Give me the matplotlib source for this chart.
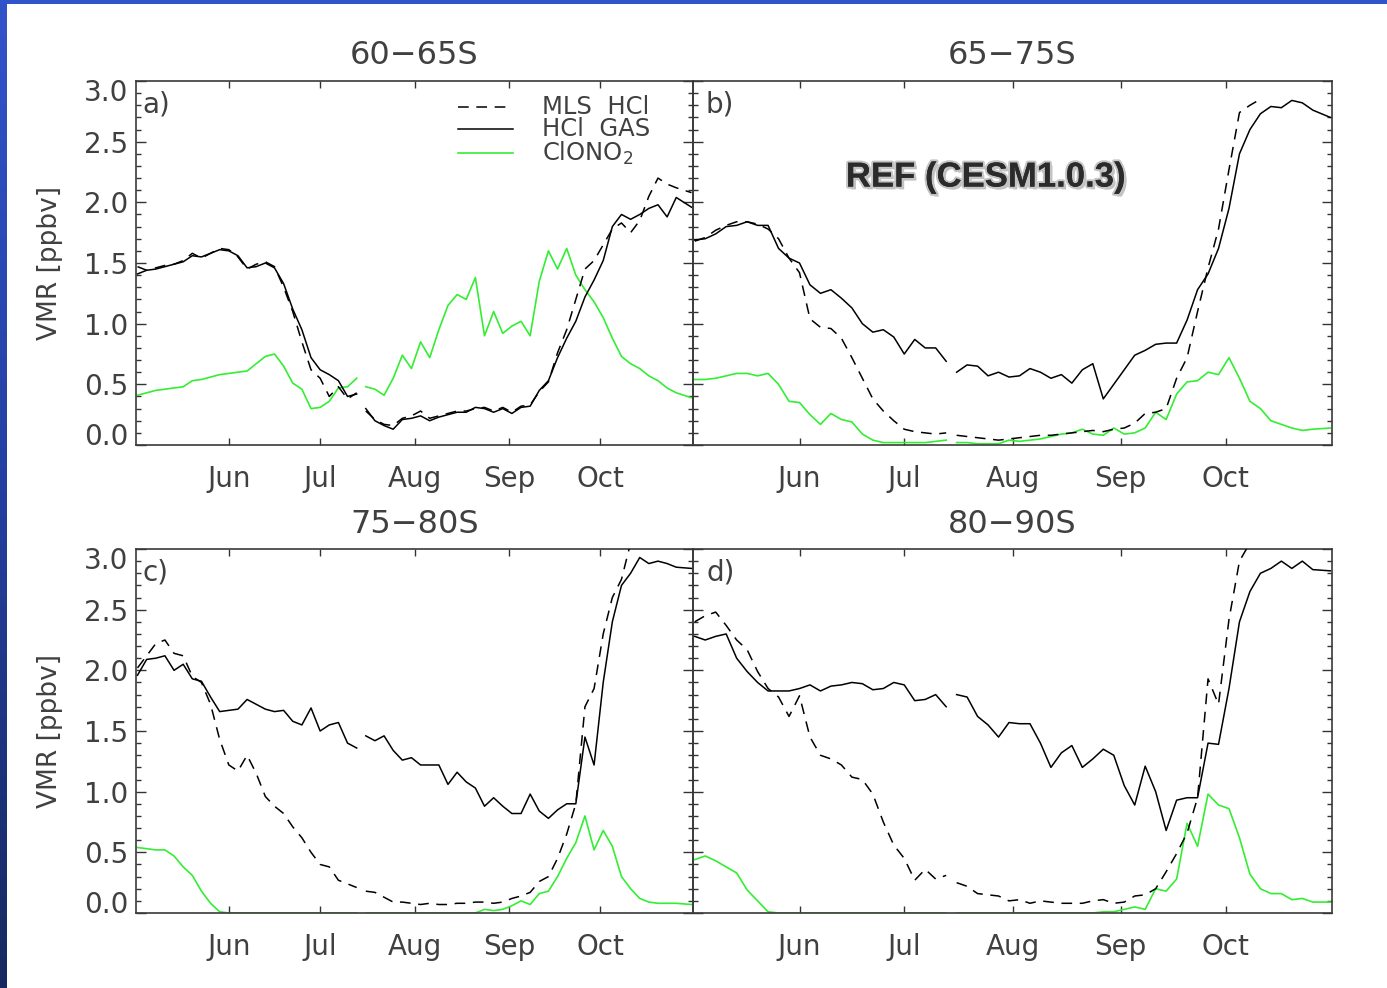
import numpy as np
import matplotlib
matplotlib.use("Agg")
import matplotlib.pyplot as plt
import matplotlib.patheffects as pe
from matplotlib.ticker import MultipleLocator, FixedLocator, NullLocator
from matplotlib.transforms import ScaledTranslation
from matplotlib.colors import LinearSegmentedColormap
from matplotlib.patches import Rectangle

plt.rcParams['font.family'] = ['DejaVu Sans']

nan = np.nan

# ---------------- data (day of year, VMR in ppbv) ----------------
days = [122, 125, 128, 131, 134, 137, 140, 143, 146, 149,
        152, 155, 158, 161, 164, 167, 170, 173, 176, 179,
        182, 185, 188, 191, 194, 195.5, 197, 200, 203, 206,
        209, 212, 215, 218, 221, 224, 227, 230, 233, 236,
        239, 242, 245, 248, 251, 254, 257, 260, 263, 266,
        269, 272, 275, 278, 281, 284, 287, 290, 293, 296,
        299, 304]

month_ticks = [152, 182, 213, 244, 274]
month_labels = ['Jun', 'Jul', 'Aug', 'Sep', 'Oct']
panel_titles = ['60\u221265S', '65\u221275S', '75\u221280S', '80\u221290S']
panel_letters = ['a)', 'b)', 'c)', 'd)']
series_names = ['MLS  HCl', 'HCl  GAS', 'ClONO$_2$']

# panel a : 60-65S
a_gas = [1.41, 1.44, 1.45, 1.47, 1.49, 1.51, 1.56, 1.55, 1.58, 1.61,
         1.60, 1.56, 1.46, 1.47, 1.50, 1.46, 1.33, 1.12, 0.95, 0.72,
         0.62, 0.58, 0.53, 0.40, 0.42, nan, 0.30, 0.20, 0.16, 0.13,
         0.21, 0.22, 0.24, 0.20, 0.23, 0.25, 0.27, 0.27, 0.31, 0.30,
         0.27, 0.30, 0.26, 0.31, 0.32, 0.45, 0.53, 0.72, 0.88, 1.02,
         1.22, 1.36, 1.52, 1.80, 1.90, 1.86, 1.90, 1.95, 1.98, 1.88,
         2.04, 1.96]
a_mls = [1.47, 1.44, 1.46, 1.48, 1.49, 1.52, 1.58, 1.54, 1.58, 1.62,
         1.61, 1.55, 1.45, 1.49, 1.51, 1.47, 1.30, 1.10, 0.85, 0.62,
         0.55, 0.40, 0.48, 0.38, 0.43, nan, 0.28, 0.21, 0.17, 0.16,
         0.22, 0.24, 0.28, 0.22, 0.24, 0.26, 0.28, 0.28, 0.30, 0.31,
         0.28, 0.31, 0.27, 0.32, 0.33, 0.44, 0.52, 0.76, 0.95, 1.20,
         1.45, 1.52, 1.65, 1.78, 1.83, 1.75, 1.85, 2.05, 2.20, 2.15,
         2.12, 2.08]
a_clono2 = [0.41, 0.43, 0.45, 0.46, 0.47, 0.48, 0.53, 0.54, 0.56, 0.58,
            0.59, 0.60, 0.61, 0.67, 0.73, 0.75, 0.65, 0.51, 0.46, 0.30,
            0.31, 0.36, 0.47, 0.48, 0.55, nan, 0.48, 0.46, 0.41, 0.55,
            0.74, 0.63, 0.85, 0.72, 0.95, 1.15, 1.24, 1.20, 1.38, 0.90,
            1.10, 0.92, 0.98, 1.02, 0.90, 1.35, 1.60, 1.45, 1.62, 1.40,
            1.28, 1.18, 1.05, 0.88, 0.73, 0.67, 0.63, 0.57, 0.53, 0.47,
            0.43, 0.39]

# panel b : 65-75S
b_gas = [1.69, 1.70, 1.74, 1.80, 1.81, 1.84, 1.81, 1.81, 1.62, 1.54,
         1.50, 1.32, 1.25, 1.28, 1.21, 1.13, 1.00, 0.93, 0.95, 0.89,
         0.75, 0.87, 0.80, 0.80, 0.69, nan, 0.60, 0.66, 0.65, 0.57,
         0.60, 0.56, 0.57, 0.63, 0.60, 0.55, 0.58, 0.51, 0.62, 0.67,
         0.38, 0.50, 0.62, 0.74, 0.78, 0.83, 0.84, 0.84, 1.03, 1.28,
         1.41, 1.62, 1.95, 2.40, 2.60, 2.73, 2.79, 2.78, 2.84, 2.82,
         2.76, 2.70]
b_mls = [1.68, 1.71, 1.77, 1.81, 1.84, 1.84, 1.82, 1.78, 1.70, 1.54,
         1.42, 1.04, 0.97, 0.96, 0.88, 0.72, 0.55, 0.38, 0.28, 0.20,
         0.13, 0.11, 0.10, 0.09, 0.10, nan, 0.08, 0.07, 0.06, 0.05,
         0.04, 0.05, 0.06, 0.07, 0.08, 0.08, 0.09, 0.10, 0.11, 0.12,
         0.11, 0.13, 0.14, 0.18, 0.26, 0.27, 0.30, 0.55, 0.72, 1.10,
         1.46, 1.78, 2.27, 2.74, 2.80, 2.85, nan, nan, nan, nan,
         nan, nan]
b_clono2 = [0.54, 0.54, 0.55, 0.57, 0.59, 0.59, 0.57, 0.59, 0.50, 0.36,
            0.35, 0.25, 0.17, 0.26, 0.21, 0.19, 0.09, 0.04, 0.02, 0.02,
            0.02, 0.02, 0.02, 0.03, 0.04, nan, 0.02, 0.02, 0.01, 0.01,
            0.01, 0.04, 0.03, 0.04, 0.05, 0.07, 0.09, 0.10, 0.13, 0.09,
            0.08, 0.14, 0.09, 0.10, 0.14, 0.27, 0.21, 0.42, 0.52, 0.53,
            0.60, 0.58, 0.72, 0.55, 0.36, 0.30, 0.20, 0.17, 0.14, 0.12,
            0.13, 0.14]

# panel c : 75-80S
c_gas = [1.96, 2.09, 2.10, 2.12, 2.00, 2.05, 1.93, 1.91, 1.78, 1.66,
         1.67, 1.68, 1.76, 1.72, 1.68, 1.66, 1.67, 1.58, 1.55, 1.69,
         1.50, 1.55, 1.57, 1.40, 1.36, nan, 1.46, 1.42, 1.46, 1.34,
         1.26, 1.28, 1.22, 1.22, 1.22, 1.06, 1.16, 1.08, 1.03, 0.88,
         0.95, 0.88, 0.82, 0.82, 0.98, 0.84, 0.78, 0.85, 0.90, 0.90,
         1.45, 1.22, 1.90, 2.40, 2.70, 2.80, 2.93, 2.88, 2.90, 2.88,
         2.85, 2.84]
c_mls = [2.02, 2.12, 2.22, 2.25, 2.14, 2.12, 1.95, 1.90, 1.72, 1.43,
         1.22, 1.17, 1.30, 1.15, 0.96, 0.88, 0.82, 0.71, 0.62, 0.50,
         0.40, 0.38, 0.27, 0.24, 0.21, nan, 0.18, 0.17, 0.13, 0.09,
         0.09, 0.08, 0.07, 0.08, 0.07, 0.07, 0.08, 0.08, 0.09, 0.09,
         0.08, 0.09, 0.12, 0.14, 0.17, 0.26, 0.30, 0.45, 0.65, 0.90,
         1.70, 1.85, 2.30, 2.60, 2.75, 3.05, nan, nan, nan, nan,
         nan, nan]
c_clono2 = [0.54, 0.53, 0.52, 0.52, 0.47, 0.38, 0.31, 0.18, 0.08, 0.01,
            0.0, 0.0, 0.0, 0.0, 0.0, 0.0, 0.0, 0.0, 0.0, 0.0,
            0.0, 0.0, 0.0, 0.0, 0.0, nan, 0.0, 0.0, 0.0, 0.0,
            0.0, 0.0, 0.0, 0.0, 0.0, 0.0, 0.0, 0.0, 0.0, 0.03,
            0.02, 0.03, 0.06, 0.10, 0.07, 0.16, 0.18, 0.30, 0.45, 0.58,
            0.80, 0.52, 0.68, 0.55, 0.30, 0.20, 0.12, 0.09, 0.08, 0.08,
            0.08, 0.07]

# panel d : 80-90S
d_gas = [2.28, 2.25, 2.28, 2.30, 2.10, 1.99, 1.90, 1.83, 1.83, 1.83,
         1.85, 1.88, 1.83, 1.87, 1.88, 1.90, 1.89, 1.84, 1.85, 1.90,
         1.88, 1.75, 1.76, 1.80, 1.70, nan, 1.80, 1.78, 1.62, 1.55,
         1.45, 1.57, 1.56, 1.56, 1.40, 1.20, 1.32, 1.38, 1.20, 1.27,
         1.35, 1.30, 1.05, 0.89, 1.21, 1.00, 0.68, 0.93, 0.95, 0.95,
         1.40, 1.39, 1.85, 2.40, 2.65, 2.80, 2.84, 2.90, 2.84, 2.90,
         2.83, 2.82]
d_mls = [2.40, 2.45, 2.48, 2.37, 2.25, 2.17, 1.99, 1.85, 1.78, 1.62,
         1.79, 1.45, 1.30, 1.27, 1.22, 1.12, 1.10, 0.98, 0.75, 0.56,
         0.45, 0.27, 0.36, 0.28, 0.31, nan, 0.25, 0.22, 0.16, 0.15,
         0.14, 0.10, 0.11, 0.08, 0.10, 0.09, 0.08, 0.08, 0.08, 0.10,
         0.11, 0.08, 0.09, 0.14, 0.15, 0.20, 0.34, 0.49, 0.66, 0.95,
         1.93, 1.72, 2.42, 2.90, 3.05, nan, nan, nan, nan, nan,
         nan, nan]
d_clono2 = [0.44, 0.47, 0.43, 0.38, 0.33, 0.19, 0.10, 0.01, 0.0, 0.0,
            0.0, 0.0, 0.0, 0.0, 0.0, 0.0, 0.0, 0.0, 0.0, 0.0,
            0.0, 0.0, 0.0, 0.0, 0.0, nan, 0.0, 0.0, 0.0, 0.0,
            0.0, 0.0, 0.0, 0.0, 0.0, 0.0, 0.0, 0.0, 0.0, 0.0,
            0.01, 0.01, 0.03, 0.05, 0.03, 0.20, 0.18, 0.28, 0.74, 0.55,
            0.98, 0.89, 0.86, 0.62, 0.32, 0.20, 0.16, 0.16, 0.11, 0.12,
            0.09, 0.09]

panels = [(a_mls, a_gas, a_clono2), (b_mls, b_gas, b_clono2),
          (c_mls, c_gas, c_clono2), (d_mls, d_gas, d_clono2)]

# ---------------- figure ----------------
W, H = 1387, 988
fig = plt.figure(figsize=(W / 100, H / 100), dpi=100)
fig.patch.set_facecolor('white')

# blue frame (left gradient strip + top strip)
ax_strip = fig.add_axes([0, 0, 7 / W, 1])
cmap = LinearSegmentedColormap.from_list('frame', ['#3254cb', '#243fa0', '#16295f'])
ax_strip.imshow(np.linspace(0, 1, 256)[:, None], aspect='auto', cmap=cmap)
ax_strip.axis('off')
fig.add_artist(Rectangle((0, 1 - 4 / H), 1, 4 / H, transform=fig.transFigure,
                         facecolor='#3254cb', edgecolor='none'))

TXT = '#404040'
GREEN = '#33ee33'


def px_axes(l, t, r, b):
    return fig.add_axes([l / W, 1 - b / H, (r - l) / W, (b - t) / H])


boxes = [(136, 81, 693, 445), (693, 81, 1332, 445),
         (136, 549, 693, 913), (693, 549, 1332, 913)]
axes = []
for i, box in enumerate(boxes):
    ax = px_axes(*box)
    ax.set_facecolor('none')
    mls, gas, clo = panels[i]
    ax.plot(days, clo, color=GREEN, lw=1.2, zorder=2)
    ax.plot(days, gas, color='black', lw=1.1, zorder=3)
    ax.plot(days, mls, color='black', lw=1.1, dashes=(7, 5), zorder=3)
    ax.set_xlim(121.5, 304.5)
    ax.set_ylim(0, 3.0)
    ax.xaxis.set_major_locator(FixedLocator(month_ticks))
    ax.set_xticklabels(month_labels)
    ax.xaxis.set_minor_locator(NullLocator())
    ax.yaxis.set_major_locator(MultipleLocator(0.5))
    ax.yaxis.set_minor_locator(MultipleLocator(0.1))
    ax.tick_params(axis='both', which='both', direction='in', top=True,
                   right=True, color='#333333', width=1.0)
    ax.tick_params(axis='x', which='major', length=5, pad=14.5,
                   labelsize=20, labelcolor=TXT)
    ax.tick_params(axis='y', which='major', length=7.2)
    ax.tick_params(axis='y', which='minor', length=3.6)
    ax.tick_params(axis='y', labelleft=False)
    for s in ax.spines.values():
        s.set_color('#3a3a3a')
        s.set_linewidth(1.2)
    pw = box[2] - box[0]
    ph = box[3] - box[1]
    ax.text(0.5, 1 + 25 / ph, panel_titles[i], transform=ax.transAxes,
            ha='center', va='center', fontsize=23, color=TXT)
    lx = 6 if i % 2 == 0 else 13
    ax.text(lx / pw, 1 - 23 / ph, panel_letters[i], transform=ax.transAxes,
            ha='left', va='center', fontsize=20, color=TXT)
    if i % 2 == 0:
        for v in np.arange(0, 3.01, 0.5):
            if v > 2.99:
                dy = -12
            elif v < 0.01:
                dy = 8
            else:
                dy = -3
            tr = ax.get_yaxis_transform() + ScaledTranslation(-8 / 100, dy / 100, fig.dpi_scale_trans)
            ax.text(0, v, f'{v:.1f}', transform=tr, ha='right', va='center',
                    fontsize=20, color=TXT)
        fig.text(50 / W, 1 - ((box[1] + box[3]) / 2) / H, 'VMR [ppbv]',
                 rotation=90, ha='center', va='center', fontsize=19, color=TXT)
    axes.append(ax)

# legend in panel a
axa = axes[0]
ly = [0.9286, 0.868, 0.802]
styles = [dict(color='black', lw=1.1, dashes=(7, 5)),
          dict(color='black', lw=1.1),
          dict(color=GREEN, lw=1.2)]
for yy, st, name in zip(ly, styles, series_names):
    axa.plot([0.578, 0.677], [yy, yy], transform=axa.transAxes, **st)
    axa.text(0.729, yy, name, transform=axa.transAxes, ha='left', va='center',
             fontsize=17.5, color=TXT)

# model label in panel b
axb = axes[1]
axb.text(0.4585, 0.736, 'REF (CESM1.0.3)', transform=axb.transAxes,
         ha='center', va='center', fontsize=25, fontweight='bold',
         family=['Liberation Sans', 'DejaVu Sans'], color='#2b2b2b',
         path_effects=[pe.SimplePatchShadow(offset=(2, -2), shadow_rgbFace='#999999', alpha=0.6),
                       pe.withStroke(linewidth=3, foreground='#c4c4c4'),
                       pe.Normal()])

fig.savefig('out.png', dpi=100)
